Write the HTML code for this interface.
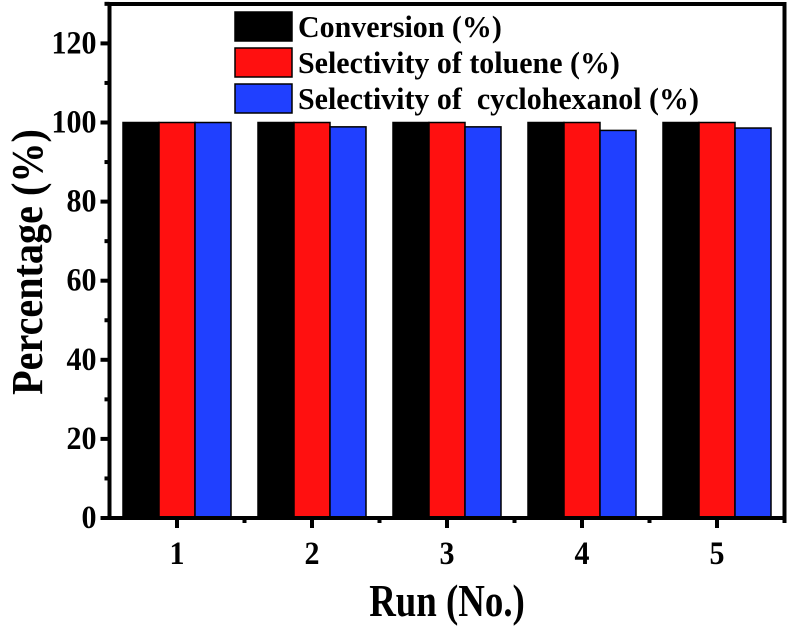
<!DOCTYPE html>
<html><head><meta charset="utf-8"><style>
html,body{margin:0;padding:0;background:#fff;}
svg{display:block;font-family:"Liberation Serif",serif;font-weight:bold;}
</style></head><body>
<svg id="chart" width="793" height="626" viewBox="0 0 793 626">
<g id="bars"></g>
<g id="axes"></g>
<g id="legend"></g>
<text transform="translate(447,616) scale(0.97,1.2)" text-anchor="middle" font-size="38">Run (No.)</text>
<text transform="translate(42,262) rotate(-90) scale(1.03,1.15)" text-anchor="middle" font-size="39">Percentage (%)</text>
</svg>
<script>
const categories = ["1","2","3","4","5"];
const conversion = [100,100,100,100,100];
const selToluene = [100,100,100,100,100];
const selCyclohexanol = [100,98.9,98.9,98.0,98.6];
const seriesNames = ["Conversion (%)","Selectivity of toluene (%)","Selectivity of  cyclohexanol (%)"];
const yTicks = [0,20,40,60,80,100,120];

const NS="http://www.w3.org/2000/svg";
const L=109.5,R=784.5,T=4,B=518;
const x=v=>L+(v-0.5)*(R-L)/5;
const y=v=>B-v*3.955;
function mk(tag,at,parent){const e=document.createElementNS(NS,tag);for(const k in at)e.setAttribute(k,at[k]);parent.appendChild(e);return e;}
const colors=["#000000","#ff1010","#2040ff"];
const series=[conversion,selToluene,selCyclohexanol];
const bars=document.getElementById('bars');
const bw=36;
categories.forEach((c,i)=>{
  series.forEach((s,j)=>{
    const cx=x(i+1)+(j-1)*bw;
    const r=mk('rect',{x:cx-bw/2,y:y(s[i]),width:bw,height:B-y(s[i]),fill:colors[j],stroke:'#000','stroke-width':1.5},bars);
    
    
  });
});
const ax=document.getElementById('axes');
const fr=mk('rect',{x:L,y:T,width:R-L,height:B-T,fill:'none',stroke:'#000','stroke-width':4},ax);


yTicks.forEach(v=>{
  mk('line',{x1:L-9,x2:L,y1:y(v),y2:y(v),stroke:'#000','stroke-width':4},ax);
  mk('line',{x1:L-5,x2:L,y1:y(v+10),y2:y(v+10),stroke:'#000','stroke-width':4},ax);
  const t=mk('text',{transform:'translate('+(L-13)+','+(y(v)+10)+') scale(1,1.1)','text-anchor':'end','font-size':30},ax);
  t.textContent=v;
  
  
});
categories.forEach((c,i)=>{
  const xv=x(i+1);
  mk('line',{x1:xv,x2:xv,y1:B,y2:B+10,stroke:'#000','stroke-width':4},ax);
  mk('line',{x1:x(i+1.5),x2:x(i+1.5),y1:B,y2:B+5,stroke:'#000','stroke-width':4},ax);
  const t=mk('text',{transform:'translate('+xv+','+(B+46)+') scale(1,1.1)','text-anchor':'middle','font-size':30},ax);
  t.textContent=c;
  
  
});
const lg=document.getElementById('legend');
const ly=[12,48,84];
seriesNames.forEach((n,j)=>{
  const r=mk('rect',{x:235,y:ly[j],width:57,height:29,fill:colors[j],stroke:'#000','stroke-width':1.5},lg);
  
  
  const t=mk('text',{transform:'translate(298,'+(ly[j]+25)+') scale(1.07,1.1)','font-size':28,style:'white-space:pre'},lg);
  t.textContent=n;
  
  
});
</script>
</body></html>
